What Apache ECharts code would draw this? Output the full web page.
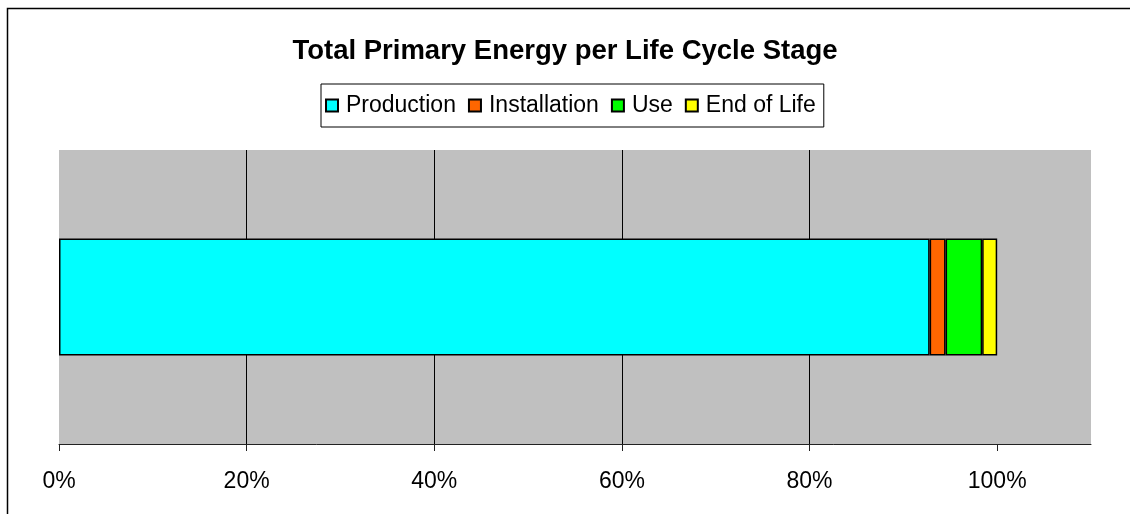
<!DOCTYPE html>
<html><head><meta charset="utf-8">
<script src="https://cdn.jsdelivr.net/npm/echarts@6/dist/echarts.min.js"></script>
<style>html,body{margin:0;padding:0;background:#fff}#c{width:1130px;height:514px}</style>
</head><body><div id="c"></div>
<script>
const categories = [''];
const seriesNames = ['Production', 'Installation', 'Use', 'End of Life'];
const seriesColors = ['#00ffff', '#ff6600', '#00ff00', '#ffff00'];
const production = [92.8];
const installation = [1.7];
const use = [3.9];
const endOfLife = [1.6];
const values = [production, installation, use, endOfLife];
const xTicks = [0, 20, 40, 60, 80, 100];

const chart = echarts.init(document.getElementById('c'));
const font = 'Liberation Sans, Arial, sans-serif';
chart.setOption({
  animation: false,
  title: {
    text: 'Total Primary Energy per Life Cycle Stage',
    left: 'center', top: 32,
    textStyle: {fontFamily: font, fontSize: 27.5, fontWeight: 'bold', color: '#000'}
  },
  legend: {
    data: seriesNames, left: 321, top: 84,
    icon: 'rect', itemWidth: 12, itemHeight: 12, itemGap: 12,
    borderColor: '#000', borderWidth: 1, padding: [10, 8, 10, 4],
    textStyle: {fontFamily: font, fontSize: 23, color: '#000', padding: [0, 0, 0, 3]}
  },
  graphic: [{type: 'rect', shape: {x: 7.5, y: 8.5, width: 1140, height: 520}, style: {fill: 'none', stroke: '#000', lineWidth: 1.5}, silent: true}],
  grid: {left: 59, right: 39, top: 150, bottom: 70, show: true, backgroundColor: '#c0c0c0', borderWidth: 0},
  xAxis: {
    type: 'value', min: 0, max: 110, interval: 20,
    axisLine: {show: true, lineStyle: {color: '#222', width: 1}},
    axisTick: {show: true, length: 7, lineStyle: {color: '#222'}, customValues: xTicks},
    axisLabel: {fontFamily: font, fontSize: 23, color: '#000', margin: 26, customValues: xTicks,
      formatter: v => v + '%'},
    splitLine: {show: true, showMinLine: false, showMaxLine: false, lineStyle: {color: '#000', width: 1}}
  },
  yAxis: {type: 'category', data: categories, axisLine: {show: false}, axisTick: {show: false}, axisLabel: {show: false}},
  series: seriesNames.map((n, i) => ({
    name: n, type: 'bar', stack: 'total', data: values[i], barWidth: 117,
    itemStyle: {color: seriesColors[i], borderColor: '#000', borderWidth: 1.5}
  }))
});
</script></body></html>
